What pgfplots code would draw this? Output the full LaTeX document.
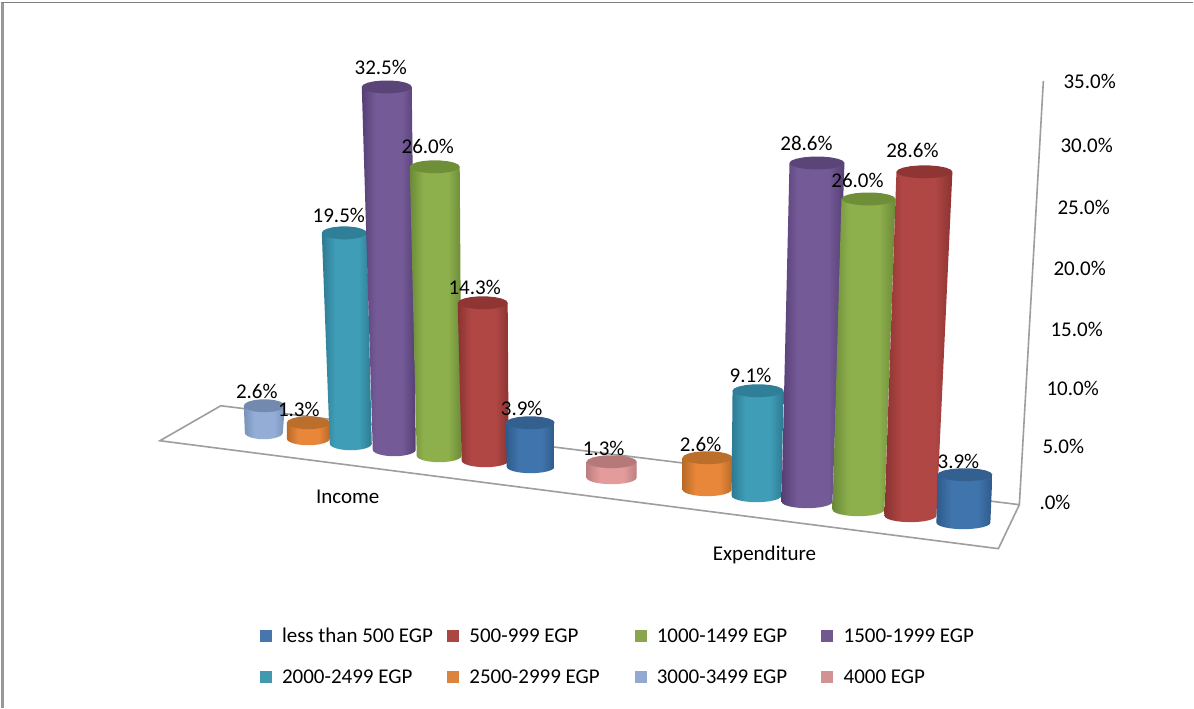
\documentclass[border=0pt]{standalone}
\usepackage{pgfplots}
\pgfplotsset{compat=1.18}
\usepackage{fontspec}
\setmainfont{Carlito}
% colours: mid, dark (edge), top face, legend swatch
\definecolor{Amid}{HTML}{3F74AC}\definecolor{Adark}{HTML}{2F5A8B}\definecolor{Atop}{HTML}{33608F}\definecolor{Aleg}{HTML}{4676AC}
\definecolor{Bmid}{HTML}{B04744}\definecolor{Bdark}{HTML}{8A3331}\definecolor{Btop}{HTML}{8F3533}\definecolor{Bleg}{HTML}{AA4643}
\definecolor{Cmid}{HTML}{8DAF4C}\definecolor{Cdark}{HTML}{6B8A38}\definecolor{Ctop}{HTML}{6F8E38}\definecolor{Cleg}{HTML}{89A54E}
\definecolor{Dmid}{HTML}{755A98}\definecolor{Ddark}{HTML}{553F74}\definecolor{Dtop}{HTML}{5B4478}\definecolor{Dleg}{HTML}{71588F}
\definecolor{Emid}{HTML}{3F9DB7}\definecolor{Edark}{HTML}{2C7A91}\definecolor{Etop}{HTML}{2F7F98}\definecolor{Eleg}{HTML}{4198AF}
\definecolor{Fmid}{HTML}{E8873A}\definecolor{Fdark}{HTML}{B96A29}\definecolor{Ftop}{HTML}{BC6E2B}\definecolor{Fleg}{HTML}{DB843D}
\definecolor{Gmid}{HTML}{94ADD6}\definecolor{Gdark}{HTML}{7892B8}\definecolor{Gtop}{HTML}{7389AE}\definecolor{Gleg}{HTML}{93A9CF}
\definecolor{Hmid}{HTML}{E39B9B}\definecolor{Hdark}{HTML}{BD7F7F}\definecolor{Htop}{HTML}{B57979}\definecolor{Hleg}{HTML}{D19392}
\newcommand\declcyl[1]{\pgfdeclarehorizontalshading{cyl#1}{100bp}{color(0bp)=(#1dark); color(25bp)=(#1dark); color(38bp)=(#1mid); color(62bp)=(#1mid); color(75bp)=(#1dark); color(100bp)=(#1dark)}}
\declcyl{A}\declcyl{B}\declcyl{C}\declcyl{D}\declcyl{E}\declcyl{F}\declcyl{G}\declcyl{H}
\def\cylb{6.5}
% #1 #2 top left/right, #3 #4 bottom left/right, #5 base y, #6 value (%), #7 pixels per %, #8 colour key
\newcommand\cyl[8]{%
  \pgfmathsetmacro\ytop{#5-#6*#7}%
  \pgfmathsetmacro\cxb{(#3+#4)/2}\pgfmathsetmacro\axb{(#4-#3)/2}%
  \pgfmathsetmacro\cxt{(#1+#2)/2}\pgfmathsetmacro\axt{(#2-#1)/2}%
  \xdef\pts{(#1,\ytop)}%
  \foreach \t in {180,195,...,360}{%
    \pgfmathsetmacro\px{\cxb+\axb*cos(\t)}\pgfmathsetmacro\py{#5-\cylb*sin(\t)}%
    \xdef\pts{\pts (\px,\py)}}%
  \xdef\pts{\pts (#2,\ytop)}%
  \edef\temp{\noexpand\addplot[draw=none,shade,shading=cyl#8] coordinates {\pts} -- cycle;}\temp
  \xdef\pts{}%
  \foreach \t in {0,20,...,340}{%
    \pgfmathsetmacro\px{\cxt+\axt*cos(\t)}\pgfmathsetmacro\py{\ytop-\cylb*sin(\t)}%
    \xdef\pts{\pts (\px,\py)}}%
  \edef\temp{\noexpand\addplot[draw=none,fill=#8top] coordinates {\pts} -- cycle;}\temp
}
\newcommand\lab[3]{\node[anchor=base,inner sep=0pt,yshift=-7pt,text=black] at (axis cs:#1,#2) {#3};}
\newcommand\labw[3]{\node[anchor=base west,inner sep=0pt,yshift=-7pt,text=black] at (axis cs:#1,#2) {#3};}
\newcommand\legitem[4]{%
  \pgfmathsetmacro\xa{#1+12}\pgfmathsetmacro\ya{#2-6}\pgfmathsetmacro\yb{#2+6}%
  \edef\temp{\noexpand\addplot[draw=none,fill=#3leg] coordinates {(#1,\ya) (\xa,\ya) (\xa,\yb) (#1,\yb)} -- cycle;}\temp
  \pgfmathsetmacro\xt{#1+22}%
  \edef\temp{\noexpand\labw{\xt}{#2}{#4}}\temp
}
\begin{document}
\begin{tikzpicture}
\begin{axis}[
  scale only axis, width=1194pt, height=708pt,
  xmin=0, xmax=1194, ymin=0, ymax=708, y dir=reverse,
  hide axis, clip=false, no markers,
  every axis plot/.append style={line join=round},
  font=\fontsize{21}{24}\selectfont,
]
\addplot[draw=none,fill=white] coordinates {(0,0) (1194,0) (1194,708) (0,708)} -- cycle;
% picture frame
\addplot[draw=black!40,line width=2.4pt] coordinates {(2.4,708) (2.4,2.5)};
\addplot[draw=black!50,line width=1.5pt] coordinates {(1.5,2.5) (1194,2.5)};
% floor and wall
\addplot[draw=black!38,line width=1.6pt,line join=miter] coordinates {(1044,81) (1020,505) (221,406) (160,441) (999,549) (1020,505)};
% Income
\cyl{244}{285}{245}{283}{433}{2.6}{10.38}{G}
\cyl{287}{330}{287}{330}{439}{1.3}{12.3}{F}
\cyl{322}{367}{330}{372}{444}{19.5}{10.82}{E}
\cyl{362}{412}{373}{416}{450}{32.5}{11.17}{D}
\cyl{410}{460}{417}{462}{456}{26.0}{11.12}{C}
\cyl{458}{508}{462}{509}{461}{14.3}{11.05}{B}
\cyl{506}{555}{507}{555}{467}{3.9}{11.28}{A}
% Expenditure
\cyl{587}{637}{587}{637}{478}{1.3}{12.3}{H}
\cyl{683}{733}{683}{732}{490}{2.6}{12.31}{F}
\cyl{733}{784}{732}{782}{496}{9.1}{11.54}{E}
\cyl{790}{845}{782}{833}{502}{28.6}{11.85}{D}
\cyl{842}{896}{833}{885}{510}{26.0}{11.96}{C}
\cyl{897}{953}{885}{937}{516}{28.6}{12.03}{B}
\cyl{938}{993}{937}{991}{523}{3.9}{12.31}{A}
% data labels
\lab{381}{68}{32.5\%}
\lab{428}{147}{26.0\%}
\lab{339}{216}{19.5\%}
\lab{475}{288}{14.3\%}
\lab{257}{392}{2.6\%}
\lab{299}{410}{1.3\%}
\lab{522}{409}{3.9\%}
\lab{604}{449}{1.3\%}
\lab{701}{445}{2.6\%}
\lab{751}{376}{9.1\%}
\lab{807}{144}{28.6\%}
\lab{858}{181}{26.0\%}
\lab{913}{151}{28.6\%}
\lab{959}{462}{3.9\%}
% category labels
\lab{348}{497}{Income}
\lab{765}{554}{Expenditure}
% value axis labels
\labw{1064}{82}{35.0\%}
\labw{1061}{146}{30.0\%}
\labw{1058}{208}{25.0\%}
\labw{1054}{269}{20.0\%}
\labw{1051}{330}{15.0\%}
\labw{1047}{389}{10.0\%}
\labw{1043}{447}{5.0\%}
\labw{1040}{503}{.0\%}
% legend
\legitem{260}{636}{A}{less than 500 EGP}
\legitem{447.5}{636}{B}{500-999 EGP}
\legitem{635}{636}{C}{1000-1499 EGP}
\legitem{822}{636}{D}{1500-1999 EGP}
\legitem{260}{677}{E}{2000-2499 EGP}
\legitem{447.5}{677}{F}{2500-2999 EGP}
\legitem{635}{677}{G}{3000-3499 EGP}
\legitem{822}{677}{H}{4000 EGP}
\end{axis}
\end{tikzpicture}
\end{document}
